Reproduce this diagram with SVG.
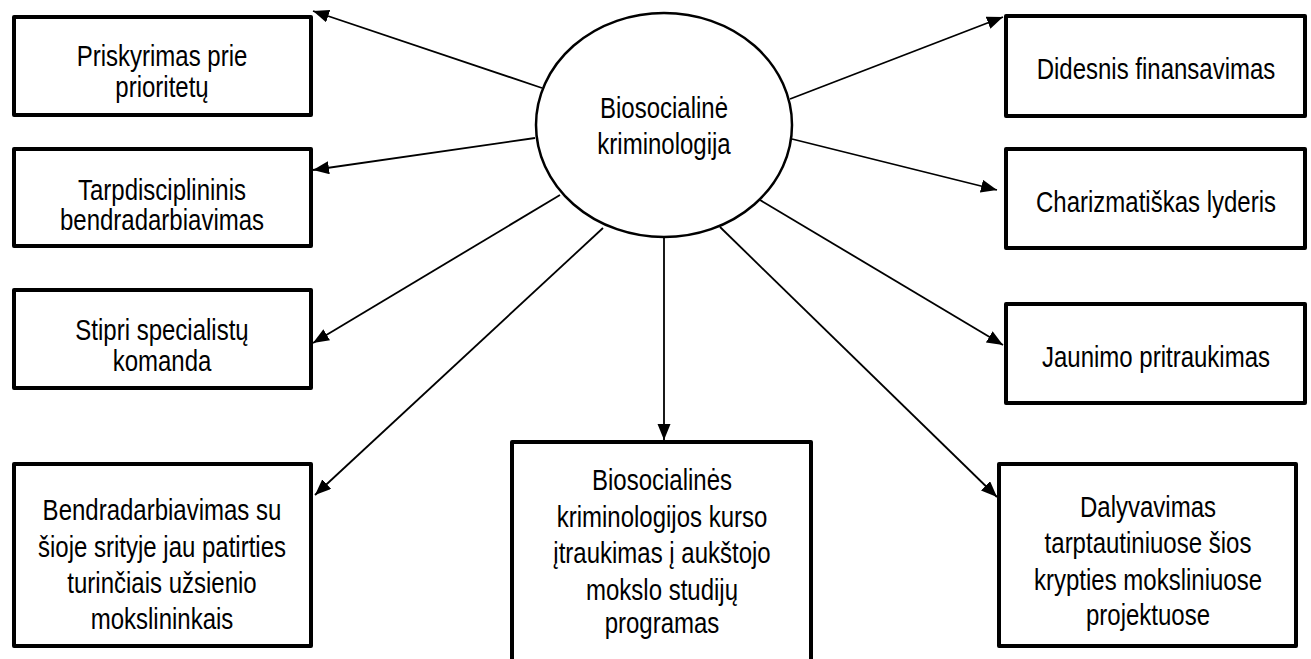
<svg xmlns="http://www.w3.org/2000/svg" width="1311" height="659" viewBox="0 0 1311 659">
<style>
.box{fill:#fff;stroke:#000;stroke-width:4;stroke-linejoin:round}
.ell{fill:#fff;stroke:#000;stroke-width:2.5}
.lbl{font-family:"Liberation Sans",Arial,sans-serif;font-size:24px;text-anchor:middle;fill:#000}
.c{stroke:#000;stroke-width:1.8;fill:none;marker-end:url(#ah)}
</style>
<defs>
<marker id="ah" markerUnits="userSpaceOnUse" markerWidth="18" markerHeight="14" refX="16" refY="6.5" orient="auto">
<path d="M0,0 L16,6.5 L0,13 z" fill="#000"/>
</marker>
</defs>
<rect width="1311" height="659" fill="#fff"/>
<g id="connectors">
<line class="c" x1="542" y1="88" x2="313" y2="11"/>
<line class="c" x1="535" y1="138" x2="313" y2="170"/>
<line class="c" x1="560" y1="195" x2="313" y2="343"/>
<line class="c" x1="603" y1="228" x2="315" y2="495"/>
<line class="c" x1="664" y1="237" x2="664" y2="440"/>
<line class="c" x1="720" y1="227" x2="997" y2="497"/>
<line class="c" x1="760" y1="200" x2="1003" y2="345"/>
<line class="c" x1="792" y1="139" x2="997" y2="190"/>
<line class="c" x1="790" y1="99" x2="1003" y2="17"/>
</g>
<g id="center">
<ellipse class="ell" cx="664" cy="125" rx="128" ry="112"/>
<text class="lbl" transform="translate(664,118) scale(1,1.22)"><tspan x="0" y="0">Biosocialinė</tspan><tspan x="0" y="29.5">kriminologija</tspan></text>
</g>
<g id="n1">
<rect class="box" x="14" y="17" width="297" height="98"/>
<text class="lbl" transform="translate(162,66) scale(1,1.22)"><tspan x="0" y="0">Priskyrimas prie</tspan><tspan x="0" y="25.4">prioritetų</tspan></text>
</g>
<g id="n2">
<rect class="box" x="14" y="149" width="297" height="97"/>
<text class="lbl" transform="translate(162,200) scale(1,1.22)"><tspan x="0" y="0">Tarpdisciplininis</tspan><tspan x="0" y="24.6">bendradarbiavimas</tspan></text>
</g>
<g id="n3">
<rect class="box" x="14" y="290" width="297" height="98"/>
<text class="lbl" transform="translate(162,340) scale(1,1.22)"><tspan x="0" y="0">Stipri specialistų</tspan><tspan x="0" y="25.4">komanda</tspan></text>
</g>
<g id="n4">
<rect class="box" x="14" y="464" width="297" height="182"/>
<text class="lbl" transform="translate(162,520) scale(1,1.22)"><tspan x="0" y="0">Bendradarbiavimas su</tspan><tspan x="0" y="30.3">šioje srityje jau patirties</tspan><tspan x="0" y="59.8">turinčiais užsienio</tspan><tspan x="0" y="89.3">mokslininkais</tspan></text>
</g>
<g id="n5">
<rect class="box" x="512" y="442" width="299" height="240"/>
<text class="lbl" transform="translate(662,490) scale(1,1.22)"><tspan x="0" y="0">Biosocialinės</tspan><tspan x="0" y="30.3">kriminologijos kurso</tspan><tspan x="0" y="59.8">įtraukimas į aukštojo</tspan><tspan x="0" y="90.2">mokslo studijų</tspan><tspan x="0" y="117.2">programas</tspan></text>
</g>
<g id="n6">
<rect class="box" x="1006" y="16" width="299" height="100"/>
<text class="lbl" transform="translate(1156,79) scale(1,1.22)"><tspan x="0" y="0">Didesnis finansavimas</tspan></text>
</g>
<g id="n7">
<rect class="box" x="1006" y="149" width="299" height="99"/>
<text class="lbl" transform="translate(1156,212) scale(1,1.22)"><tspan x="0" y="0">Charizmatiškas lyderis</tspan></text>
</g>
<g id="n8">
<rect class="box" x="1006" y="304" width="299" height="99"/>
<text class="lbl" transform="translate(1156,367) scale(1,1.22)"><tspan x="0" y="0">Jaunimo pritraukimas</tspan></text>
</g>
<g id="n9">
<rect class="box" x="999" y="464" width="297" height="182"/>
<text class="lbl" transform="translate(1148,517) scale(1,1.22)"><tspan x="0" y="0">Dalyvavimas</tspan><tspan x="0" y="29.5">tarptautiniuose šios</tspan><tspan x="0" y="59.8">krypties moksliniuose</tspan><tspan x="0" y="88.5">projektuose</tspan></text>
</g>
</svg>
